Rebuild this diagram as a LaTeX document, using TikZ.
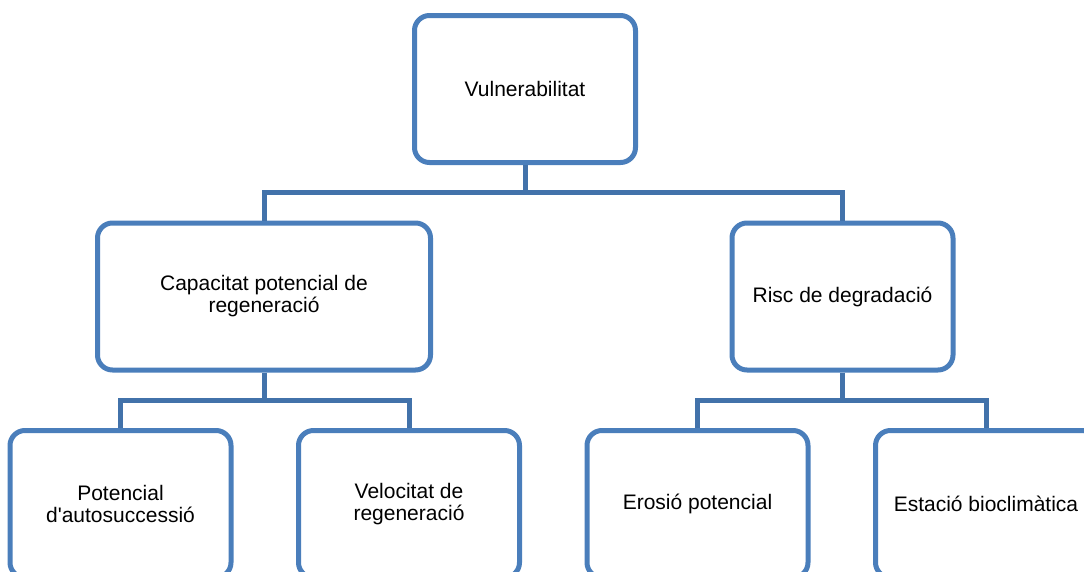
\documentclass[tikz,border=0pt]{standalone}
\usepackage{fontspec}
\setmainfont{Liberation Sans}[Ligatures=TeXOff]

\definecolor{boxblue}{RGB}{74,126,187}
\definecolor{linkblue}{RGB}{66,114,170}

\begin{document}
\begin{tikzpicture}[x=1pt,y=-1pt,
  box/.style={draw=boxblue,line width=5pt,rounded corners=15pt,fill=white,
    minimum width=221pt,minimum height=147pt,align=center,
    font=\fontsize{21}{22}\selectfont},
  link/.style={draw=linkblue,line width=5pt}]
  \clip (0,0) rectangle (1084,571);
  \node[box] (vuln) at (525,89) {Vulnerabilitat};
  \node[box,minimum width=333pt] (capac) at (264,296.5) {Capacitat potencial de\\regeneració};
  \node[box] (risc) at (842.5,296.5) {Risc de degradació};
  \foreach \name/\x/\txt in {poten/120.5/{Potencial\\d'autosuccessió}, veloc/409/{Velocitat de\\regeneració}, erosi/697.5/{Erosió potencial}, estac/986/{Estació bioclimàtica}}
    \node[box] (\name) at (\x,504) {\txt};
  \coordinate (hub1) at (525,192.5);
  \coordinate (hub2) at (264,400);
  \coordinate (hub3) at (842.5,400);
  \draw[link] (vuln.south) -- (hub1);
  \draw[link] (capac.north) |- (hub1) -| (risc.north);
  \draw[link] (capac.south) -- (hub2);
  \draw[link] (poten.north) |- (hub2) -| (veloc.north);
  \draw[link] (risc.south) -- (hub3);
  \draw[link] (erosi.north) |- (hub3) -| (estac.north);
\end{tikzpicture}
\end{document}
